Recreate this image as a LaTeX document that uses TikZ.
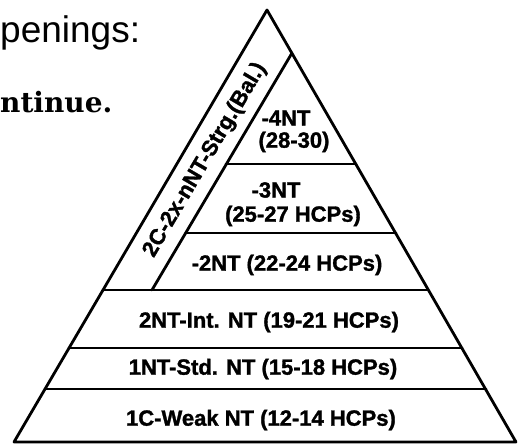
\documentclass[tikz,border=0pt]{standalone}
\usepackage{fontspec}
\setmainfont{Liberation Sans}
\newfontfamily\capafont{Liberation Sans}[BoldFeatures={FakeBold=1.4}]
\newfontfamily\seriffont{DejaVu Serif}
\usepackage{tkz-euclide}

\tikzset{
  capa/.style={font=\capafont\fontsize{22}{24}\selectfont\bfseries, inner sep=0pt},
  borde/.style={line width=2.8pt}
}

\begin{document}
\begin{tikzpicture}[x=1pt,y=1pt]
        % Paso 1: Fija el marco de la figura
        \useasboundingbox (0,0) rectangle (520,445);

        % Paso 2: Define los vertices de la piramide ABC
        \tkzDefPoint(267,435){A}
        \tkzDefPoint(14,3){B}
        \tkzDefPoint(516,3){C}

        % Paso 3: Define los extremos de cada franja
        \tkzDefPoint(45,56){P1}   \tkzDefPoint(486,56){Q1}
        \tkzDefPoint(69,97){P2}   \tkzDefPoint(462,97){Q2}
        \tkzDefPoint(103,155){P3} \tkzDefPoint(428,155){Q3}
        \tkzDefPoint(186,212){P4} \tkzDefPoint(396,212){Q4}
        \tkzDefPoint(226,281){P5} \tkzDefPoint(356,281){Q5}

        % Paso 4: Define la diagonal interior DE
        \tkzDefPoint(292,392){D}
        \tkzDefPoint(152,155){E}

        % Paso 5: Dibuja la piramide y sus franjas
        \tkzDrawPolygon[borde](A,B,C)
        \tkzDrawSegments[borde](P1,Q1 P2,Q2 P3,Q3 P4,Q4 P5,Q5 D,E)

        % Paso 6: Escribe los rotulos de cada franja
        \node[capa] (n4) at (286,327) {-4NT};
        \node[capa] (r4) at (294,303) {(28-30)};
        \node[capa] (n3) at (276,255) {-3NT};
        \node[capa] (r3) at (293,229) {(25-27 HCPs)};
        \node[capa] (n2) at (287,180) {-2NT (22-24 HCPs)};
        \node[capa] (f3) at (269,123) {2NT-Int. NT (19-21 HCPs)};
        \node[capa] (f2) at (263,76) {1NT-Std. NT (15-18 HCPs)};
        \node[capa] (f1) at (261,25) {1C-Weak NT (12-14 HCPs)};
        \node[capa, rotate=59.5] (lado) at (205,285) {2C-2x-nNT-Strg.(Bal.)};

        % Paso 7: Agrega el texto cortado de arriba
        \node[anchor=base west, inner sep=0pt, font=\fontsize{37}{40}\selectfont] (abre) at (0,402) {penings:};
        \node[anchor=base west, inner sep=0pt, font=\seriffont\bfseries\fontsize{28}{30}\selectfont] (sigue) at (0,332) {ntinue.};
\end{tikzpicture}
\end{document}
